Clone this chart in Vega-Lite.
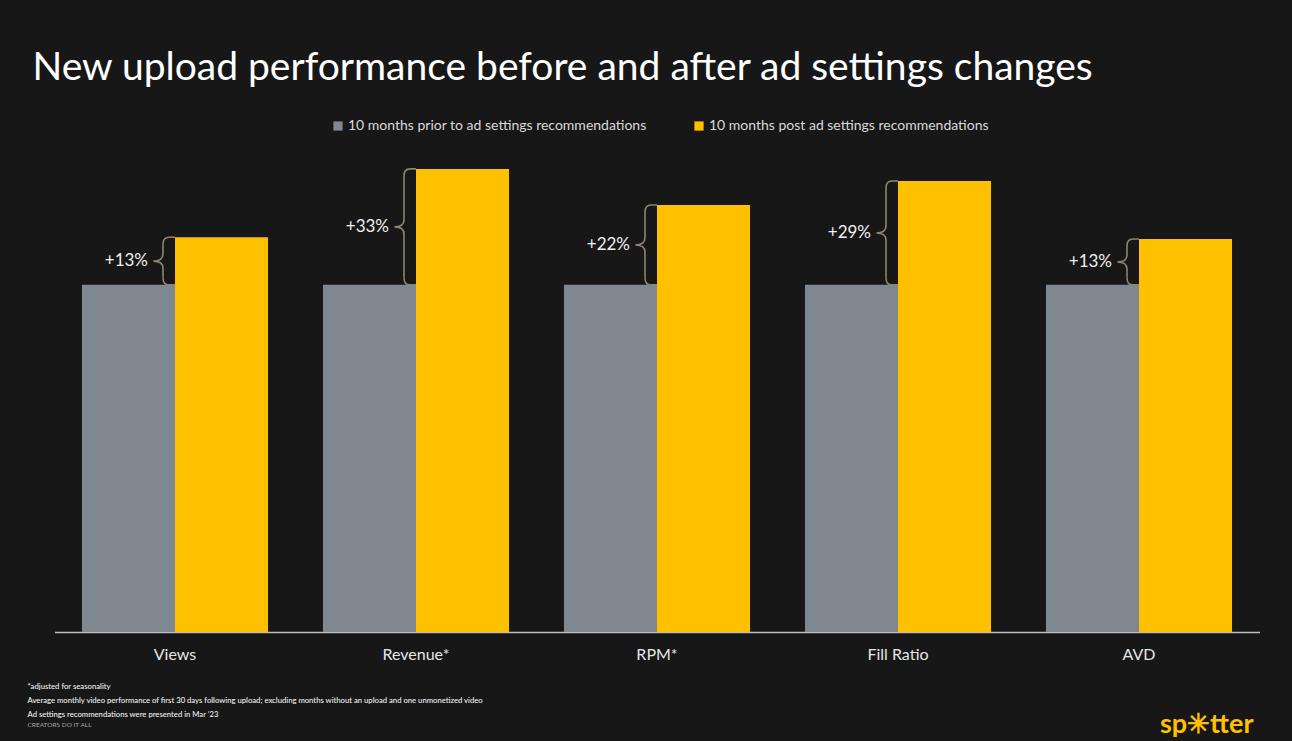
{
  "$schema": "https://vega.github.io/schema/vega-lite/v6.json",
  "width": 1205,
  "height": 486,
  "autosize": {"type": "none"},
  "padding": {"left": 54.5, "top": 146, "right": 32.5, "bottom": 109},
  "background": "#171717",
  "config": {"view": {"stroke": null}, "font": "Lato"},
  "title": {
    "text": "New upload performance before and after ad settings changes",
    "anchor": "start",
    "frame": "group",
    "dx": -22,
    "offset": 31,
    "font": "Lato",
    "fontSize": 39,
    "fontWeight": "normal",
    "color": "#ffffff"
  },
  "datasets": {
    "bars": [
      {"metric": "Views", "period": "10 months prior to ad settings recommendations", "value": 100},
      {"metric": "Views", "period": "10 months post ad settings recommendations", "value": 113.7},
      {"metric": "Revenue*", "period": "10 months prior to ad settings recommendations", "value": 100},
      {"metric": "Revenue*", "period": "10 months post ad settings recommendations", "value": 133.4},
      {"metric": "RPM*", "period": "10 months prior to ad settings recommendations", "value": 100},
      {"metric": "RPM*", "period": "10 months post ad settings recommendations", "value": 123},
      {"metric": "Fill Ratio", "period": "10 months prior to ad settings recommendations", "value": 100},
      {"metric": "Fill Ratio", "period": "10 months post ad settings recommendations", "value": 129.9},
      {"metric": "AVD", "period": "10 months prior to ad settings recommendations", "value": 100},
      {"metric": "AVD", "period": "10 months post ad settings recommendations", "value": 113.2}
    ],
    "lift": [
      {"metric": "Views", "before": 100, "after": 113.7, "label": "+13%"},
      {"metric": "Revenue*", "before": 100, "after": 133.4, "label": "+33%"},
      {"metric": "RPM*", "before": 100, "after": 123, "label": "+22%"},
      {"metric": "Fill Ratio", "before": 100, "after": 129.9, "label": "+29%"},
      {"metric": "AVD", "before": 100, "after": 113.2, "label": "+13%"}
    ]
  },
  "layer": [
    {
      "data": {"name": "bars"},
      "mark": {"type": "bar"},
      "encoding": {
        "x": {
          "field": "metric", "type": "nominal",
          "sort": ["Views", "Revenue*", "RPM*", "Fill Ratio", "AVD"],
          "scale": {"paddingInner": 0.228, "paddingOuter": 0.114},
          "axis": {
            "orient": "bottom",
            "labelAngle": 0,
            "labelFont": "Lato",
            "labelFontSize": 16,
            "labelColor": "#e6e6e6",
            "labelPadding": 14,
            "ticks": false,
            "grid": false,
            "domainColor": "#bfbfbf",
            "domainWidth": 1.5,
            "title": ["*adjusted for seasonality", "Average monthly video performance of first 30 days following upload; excluding months without an upload and one unmonetized video", "Ad settings recommendations were presented in Mar \u201923"],
            "titleX": -27.5,
            "titleY": 50,
            "titleAlign": "left",
            "titleBaseline": "top",
            "titleFont": "Lato",
            "titleFontSize": 7.7,
            "titleFontWeight": 500,
            "titleLineHeight": 14,
            "titleColor": "#f2f2f2"
          }
        },
        "xOffset": {
          "field": "period", "type": "nominal",
          "sort": ["10 months prior to ad settings recommendations", "10 months post ad settings recommendations"],
          "scale": {"paddingInner": 0, "paddingOuter": 0}
        },
        "y": {
          "field": "value", "type": "quantitative",
          "scale": {"domain": [0, 140], "nice": false},
          "axis": {
            "orient": "left",
            "labels": false, "ticks": false, "domain": false, "grid": false,
            "title": "CREATORS DO IT ALL",
            "titleAngle": 0,
            "titleX": -27.5,
            "titleY": 578,
            "titleAlign": "left",
            "titleBaseline": "middle",
            "titleFont": "Lato",
            "titleFontSize": 6.5,
            "titleFontWeight": "normal",
            "titleColor": "#a6a6a6"
          }
        },
        "color": {
          "field": "period", "type": "nominal",
          "sort": ["10 months prior to ad settings recommendations", "10 months post ad settings recommendations"],
          "scale": {"range": ["#7f8890", "#ffc000"]},
          "legend": {
            "orient": "none",
            "legendX": 276.5,
            "legendY": -27,
            "direction": "horizontal",
            "title": null,
            "symbolType": "square",
            "symbolSize": 85,
            "symbolStrokeWidth": 0,
            "labelFont": "Lato",
            "labelFontSize": 14,
            "labelColor": "#d9d9d9",
            "labelOffset": 3,
            "labelLimit": 0,
            "columnPadding": 45
          }
        }
      }
    },
    {
      "data": {"name": "lift"},
      "transform": [{"calculate": "(datum.before + datum.after) / 2", "as": "mid"}],
      "layer": [
        {
          "mark": {"type": "rule", "color": "#8c866f", "strokeWidth": 1.6, "xOffset": -12, "yOffset": 7, "y2Offset": -7},
          "encoding": {
            "x": {"field": "metric", "type": "nominal", "sort": ["Views", "Revenue*", "RPM*", "Fill Ratio", "AVD"]},
            "y": {
              "field": "after", "type": "quantitative",
              "scale": {"domain": [0, 140], "nice": false},
              "axis": {
                "orient": "right",
                "labels": false, "ticks": false, "domain": false, "grid": false,
                "title": "sp\u2733tter",
                "titleAngle": 0,
                "titleX": -6.5,
                "titleY": 578,
                "titleAlign": "right",
                "titleBaseline": "middle",
                "titleFont": "Lato",
                "titleFontSize": 27,
                "titleFontWeight": "bold",
                "titleColor": "#ffc000"
              }
            },
            "y2": {"field": "mid"}
          }
        },
        {
          "mark": {"type": "rule", "color": "#8c866f", "strokeWidth": 1.6, "xOffset": -12, "yOffset": 7, "y2Offset": -7},
          "encoding": {
            "x": {"field": "metric", "type": "nominal", "sort": ["Views", "Revenue*", "RPM*", "Fill Ratio", "AVD"]},
            "y": {"field": "mid", "type": "quantitative", "scale": {"domain": [0, 140], "nice": false}},
            "y2": {"field": "before"}
          }
        },
        {
          "mark": {"type": "point", "filled": false, "opacity": 1, "color": "#8c866f", "strokeWidth": 1.6, "size": 576, "shape": "M -1 0.6 Q -1 0 -0.5 0 L 0 0"},
          "encoding": {
            "x": {"field": "metric", "type": "nominal", "sort": ["Views", "Revenue*", "RPM*", "Fill Ratio", "AVD"]},
            "y": {"field": "after", "type": "quantitative", "scale": {"domain": [0, 140], "nice": false}}
          }
        },
        {
          "mark": {"type": "point", "filled": false, "opacity": 1, "color": "#8c866f", "strokeWidth": 1.6, "size": 576, "shape": "M -1 -0.6 Q -1 0 -0.5 0 L 0 0"},
          "encoding": {
            "x": {"field": "metric", "type": "nominal", "sort": ["Views", "Revenue*", "RPM*", "Fill Ratio", "AVD"]},
            "y": {"field": "before", "type": "quantitative", "scale": {"domain": [0, 140], "nice": false}}
          }
        },
        {
          "mark": {"type": "point", "filled": false, "opacity": 1, "color": "#8c866f", "strokeWidth": 1.6, "size": 576, "shape": "M -1 -0.6 Q -1 0 -1.8 0 Q -1 0 -1 0.6"},
          "encoding": {
            "x": {"field": "metric", "type": "nominal", "sort": ["Views", "Revenue*", "RPM*", "Fill Ratio", "AVD"]},
            "y": {"field": "mid", "type": "quantitative", "scale": {"domain": [0, 140], "nice": false}}
          }
        },
        {
          "mark": {"type": "text", "align": "right", "baseline": "middle", "dx": -27, "font": "Lato", "fontSize": 17, "color": "#f0f0f0"},
          "encoding": {
            "x": {"field": "metric", "type": "nominal", "sort": ["Views", "Revenue*", "RPM*", "Fill Ratio", "AVD"]},
            "y": {"field": "mid", "type": "quantitative", "scale": {"domain": [0, 140], "nice": false}},
            "text": {"field": "label"}
          }
        }
      ]
    }
  ],
  "resolve": {"axis": {"y": "independent"}}
}
